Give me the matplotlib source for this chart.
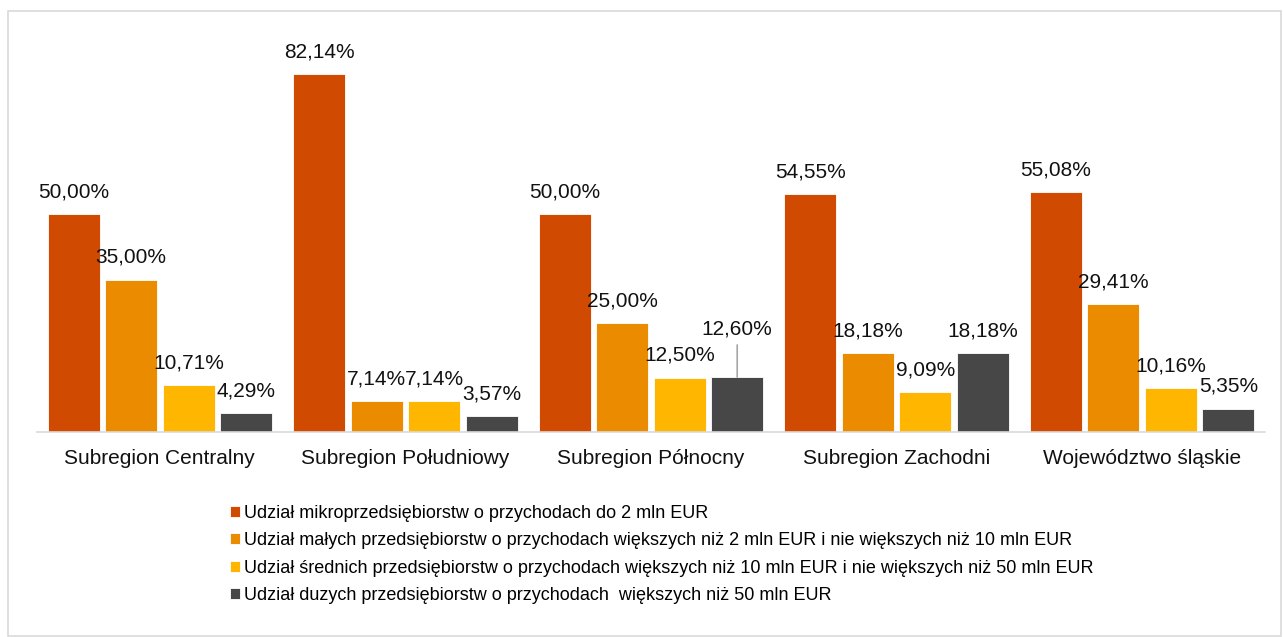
import matplotlib
matplotlib.use("Agg")
import matplotlib.pyplot as plt
import matplotlib.patches as mpatches
import numpy as np

plt.rcParams['font.family'] = ['Liberation Sans', 'DejaVu Sans']

regions = ["Subregion Centralny", "Subregion Południowy", "Subregion Północny",
           "Subregion Zachodni", "Województwo śląskie"]

micro = [50.00, 82.14, 50.00, 54.55, 55.08]
small = [35.00, 7.14, 25.00, 18.18, 29.41]
medium = [10.71, 7.14, 12.50, 9.09, 10.16]
large = [4.29, 3.57, 12.60, 18.18, 5.35]

series_names = [
    "Udział mikroprzedsiębiorstw o przychodach do 2 mln EUR",
    "Udział małych przedsiębiorstw o przychodach większych niż 2 mln EUR i nie większych niż 10 mln EUR",
    "Udział średnich przedsiębiorstw o przychodach większych niż 10 mln EUR i nie większych niż 50 mln EUR",
    "Udział duzych przedsiębiorstw o przychodach  większych niż 50 mln EUR",
]
colors = ["#D04A02", "#EB8C00", "#FFB600", "#474747"]

W, H = 1283, 637
fig = plt.figure(figsize=(W / 100, H / 100), dpi=100)
ax = fig.add_axes([37 / W, (H - 432) / H, (1265 - 37) / W, (432 - 40) / H])

x = np.arange(len(regions))
step = 0.234
width = 0.212
offsets = (np.arange(4) - 1.5) * step

for k, vals in enumerate([micro, small, medium, large]):
    bars = ax.bar(x + offsets[k], vals, width, color=colors[k],
                  edgecolor="white", linewidth=0.6, label=series_names[k])
    for i, b in enumerate(bars):
        v = vals[i]
        txt = f"{v:.2f}".replace(".", ",") + "%"
        cx = b.get_x() + b.get_width() / 2
        if k == 3 and i == 2:
            # label lifted up with a leader line to the bar
            ax.annotate(txt, xy=(cx, v), xytext=(0, 35), textcoords="offset points",
                        ha="center", va="center", fontsize=15, color="#111111",
                        arrowprops=dict(arrowstyle="-", color="#A6A6A6", lw=1.2,
                                        shrinkA=3, shrinkB=0))
        else:
            ax.annotate(txt, xy=(cx, v), xytext=(0, 16), textcoords="offset points",
                        ha="center", va="center", fontsize=15, color="#111111")

ax.set_xlim(-0.5, len(regions) - 0.5)
ax.set_ylim(0, 90)
ax.set_xticks(x)
ax.set_xticklabels(regions, fontsize=15, color="#111111")
ax.tick_params(axis="x", length=0, pad=12)
ax.set_yticks([])
for s in ["top", "right", "left"]:
    ax.spines[s].set_visible(False)
ax.spines["bottom"].set_color("#D9D9D9")
ax.spines["bottom"].set_linewidth(1.2)

fig.legend(loc="upper left", bbox_to_anchor=(230 / W, (H - 505) / H),
           frameon=False, fontsize=13, handlelength=0.55, handleheight=0.55,
           handletextpad=0.25, labelspacing=0.57, borderaxespad=0, borderpad=0)

# outer frame
fig.patches.append(mpatches.Rectangle((8 / W, 1 / H), (1281 - 8) / W, (636 - 11) / H,
                                      transform=fig.transFigure, fill=False,
                                      edgecolor="#D9D9D9", linewidth=1.2))

fig.savefig("out.png", dpi=100, facecolor="white")
